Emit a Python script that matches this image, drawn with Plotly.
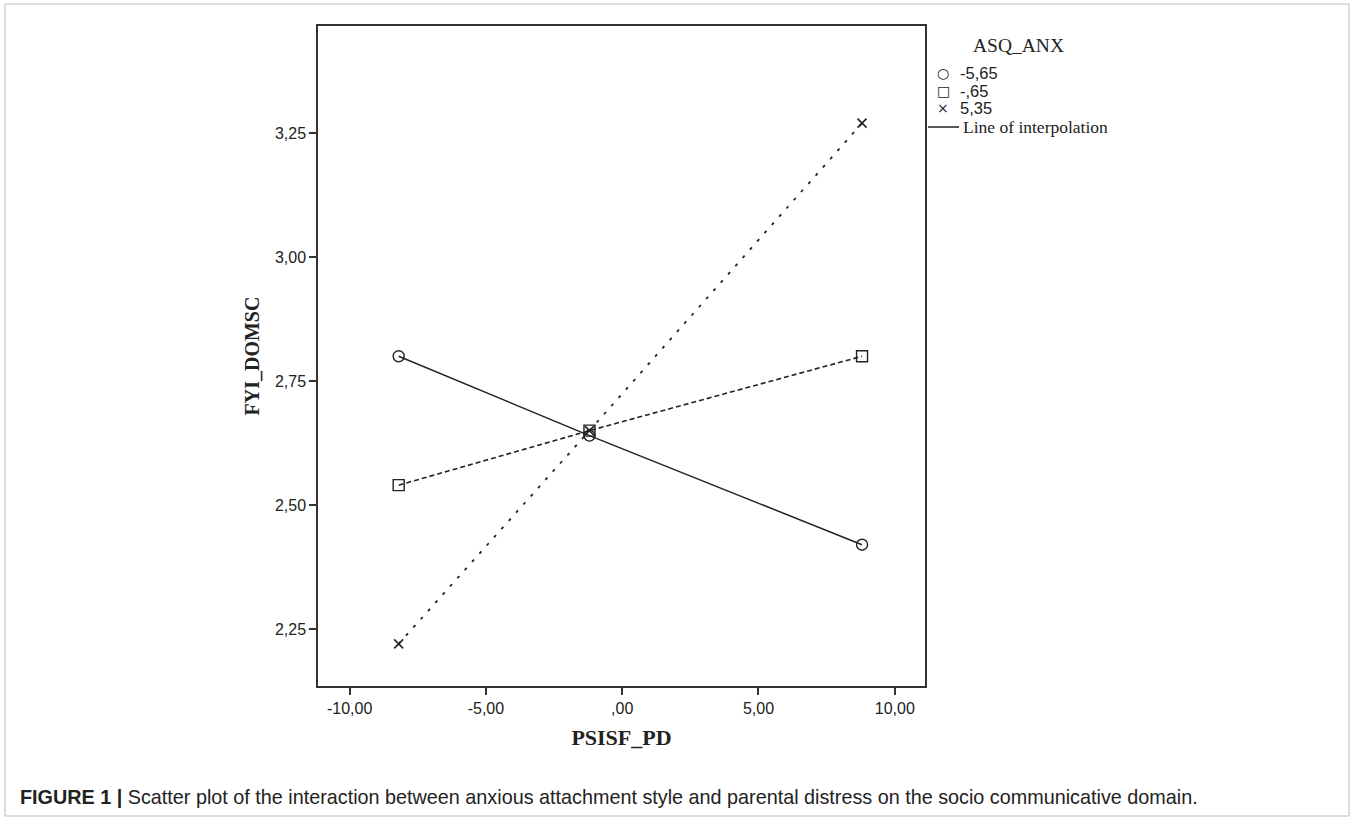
import plotly.graph_objects as go

# ---- data ----
psisf_pd = [-8.2, -1.2, 8.8]
asq_levels = ["-5,65", "-,65", "5,35"]
fyi_low = [2.80, 2.64, 2.42]
fyi_mid = [2.54, 2.65, 2.80]
fyi_high = [2.22, 2.65, 3.27]
x_tickvals = [-10, -5, 0, 5, 10]
x_ticktext = ["-10,00", "-5,00", ",00", "5,00", "10,00"]
y_tickvals = [2.25, 2.50, 2.75, 3.00, 3.25]
y_ticktext = ["2,25", "2,50", "2,75", "3,00", "3,25"]
caption_bold = "FIGURE 1 |"
caption_text = " Scatter plot of the interaction between anxious attachment style and parental distress on the socio communicative domain."

W, H = 1354, 823
L, R, T, B = 318, 925, 26, 686

def px(x):
    return (x - L) / (R - L)

def py(y):
    return (B - y) / (B - T)

ink = "#222222"
fig = go.Figure()
fig.add_trace(go.Scatter(x=psisf_pd, y=fyi_low, mode="lines+markers", name=asq_levels[0],
                         line=dict(color=ink, width=1.5),
                         marker=dict(symbol="circle-open", size=11, color=ink, line=dict(width=1.4))))
fig.add_trace(go.Scatter(x=psisf_pd, y=fyi_mid, mode="lines+markers", name=asq_levels[1],
                         line=dict(color=ink, width=1.6, dash="5px,3px"),
                         marker=dict(symbol="square-open", size=11, color=ink, line=dict(width=1.4))))
fig.add_trace(go.Scatter(x=psisf_pd, y=fyi_high, mode="lines+markers", name=asq_levels[2],
                         line=dict(color=ink, width=1.8, dash="3px,8px"),
                         marker=dict(symbol="x-thin-open", size=9, color=ink, line=dict(width=1.6))))

serif = "Liberation Serif"
sans = "Liberation Sans"

annotations = [
    dict(x=px(1018), y=py(45), text="ASQ_ANX", font=dict(family=serif, size=19.5, color=ink)),
]
symbols = ["○", "□", "×"]
ys = [73, 90.5, 108]
for s, lab, yy in zip(symbols, asq_levels, ys):
    annotations.append(dict(x=px(943), y=py(yy), text=s, font=dict(family="DejaVu Sans", size=14, color=ink)))
    annotations.append(dict(x=px(958), y=py(yy), text=lab, xanchor="left",
                            font=dict(family=sans, size=16.5, color=ink)))
annotations.append(dict(x=px(961), y=py(127), text="Line of interpolation", xanchor="left",
                        font=dict(family=serif, size=17.5, color=ink)))
annotations.append(dict(x=px(18), y=py(797), xanchor="left",
                        text="<b>" + caption_bold + "</b>" + caption_text,
                        font=dict(family=sans, size=19.8, color="#222222")))
for a in annotations:
    a.setdefault("xref", "paper")
    a.setdefault("yref", "paper")
    a.setdefault("showarrow", False)
    a.setdefault("xanchor", "center")
    a.setdefault("yanchor", "middle")

shapes = [
    dict(type="line", xref="paper", yref="paper", x0=px(928), x1=px(959), y0=py(127), y1=py(127),
         line=dict(color=ink, width=1.5)),
    dict(type="rect", xref="paper", yref="paper", x0=px(5), x1=px(1349), y0=py(4), y1=py(816),
         line=dict(color="#bbbbbb", width=1)),
]

fig.update_layout(
    width=W, height=H,
    margin=dict(l=L, r=W - R, t=T, b=H - B),
    paper_bgcolor="white", plot_bgcolor="white",
    showlegend=False,
    annotations=annotations,
    shapes=shapes,
    xaxis=dict(range=[-11.16, 11.11], tickvals=x_tickvals, ticktext=x_ticktext,
               showgrid=False, zeroline=False, showline=True, mirror=True,
               linecolor="#333333", linewidth=1.5, ticks="outside", ticklen=7, tickwidth=1.5,
               tickcolor="#333333", tickfont=dict(family=sans, size=16, color=ink),
               title=dict(text="<b>PSISF_PD</b>", font=dict(family=serif, size=22, color=ink), standoff=14)),
    yaxis=dict(range=[2.135, 3.466], tickvals=y_tickvals, ticktext=y_ticktext,
               showgrid=False, zeroline=False, showline=True, mirror=True,
               linecolor="#333333", linewidth=1.5, ticks="outside", ticklen=7, tickwidth=1.5,
               tickcolor="#333333", tickfont=dict(family=sans, size=16, color=ink),
               title=dict(text="<b>FYI_DOMSC</b>", font=dict(family=serif, size=20, color=ink), standoff=10)),
)

fig.write_html("out.html", config={"displayModeBar": False},
               post_script="document.body.style.margin='0';")
